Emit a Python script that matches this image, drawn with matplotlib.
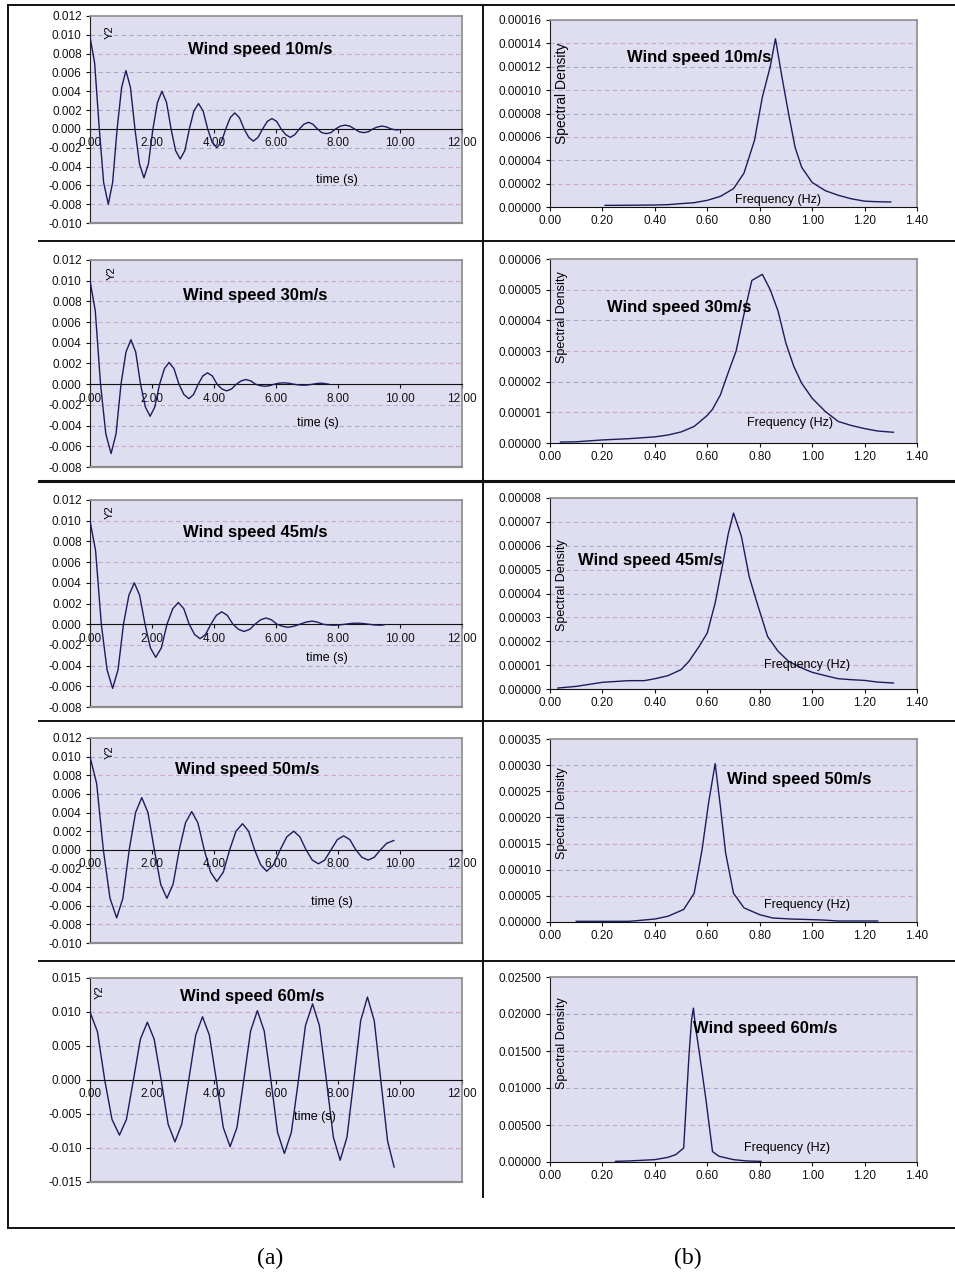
import matplotlib.pyplot as plt
from matplotlib.lines import Line2D

plt.rcParams['font.family'] = ['Liberation Sans', 'DejaVu Sans']
plt.rcParams['axes.unicode_minus'] = False

# ---- (a) response Y2 against time (s) ----
t_10 = [0.00, 0.15, 0.30, 0.44, 0.59,
        0.73, 0.875, 1.02, 1.16,
        1.305, 1.45, 1.595, 1.74,
        1.885, 2.03, 2.175, 2.32,
        2.47, 2.615, 2.76, 2.91,
        3.06, 3.205, 3.35, 3.50,
        3.65, 3.795, 3.94, 4.09,
        4.235, 4.38, 4.525, 4.67,
        4.82, 4.97, 5.12, 5.27,
        5.42, 5.57, 5.72, 5.87,
        6.02, 6.165, 6.31, 6.46,
        6.61, 6.755, 6.90, 7.05,
        7.19, 7.335, 7.48, 7.62,
        7.77, 7.925, 8.08, 8.23,
        8.38, 8.53, 8.68, 8.83,
        8.98, 9.125, 9.27, 9.42,
        9.57, 9.71, 9.85, 9.95]
y2_10 = [0.0098, 0.0070, 0.0, -0.0057, -0.0080,
         -0.0057, 0.0, 0.0044, 0.0062,
         0.0044, 0.0, -0.0037, -0.0052,
         -0.0037, 0.0, 0.0028, 0.0040,
         0.0028, 0.0, -0.0023, -0.0032,
         -0.0023, 0.0, 0.0019, 0.0027,
         0.0019, 0.0, -0.0014, -0.0020,
         -0.0014, 0.0, 0.0012, 0.0017,
         0.0012, 0.0, -0.0009, -0.0013,
         -0.0009, 0.0, 0.0008, 0.0011,
         0.0008, 0.0, -0.0006, -0.0009,
         -0.0006, 0.0, 0.0005, 0.0007,
         0.0005, 0.0, -0.0004, -0.0005,
         -0.0004, 0.0, 0.0003, 0.0004,
         0.0003, 0.0, -0.0003, -0.0004,
         -0.0003, 0.0, 0.0002, 0.0003,
         0.0002, 0.0, -0.0001, -0.0001]

t_30 = [0.00, 0.17, 0.34, 0.51, 0.68,
        0.84, 1.00, 1.16, 1.32,
        1.475, 1.63, 1.785, 1.94,
        2.09, 2.245, 2.40, 2.55,
        2.71, 2.87, 3.03, 3.19,
        3.34, 3.49, 3.64, 3.79,
        3.945, 4.10, 4.255, 4.41,
        4.565, 4.72, 4.875, 5.03,
        5.185, 5.34, 5.495, 5.65,
        5.80, 5.945, 6.09, 6.24,
        6.40, 6.565, 6.73, 6.89,
        7.04, 7.185, 7.33, 7.48,
        7.70]
y2_30 = [0.0100, 0.0071, 0.0, -0.0048, -0.0067,
         -0.0048, 0.0, 0.0031, 0.0043,
         0.0031, 0.0, -0.0022, -0.0031,
         -0.0022, 0.0, 0.0015, 0.0021,
         0.0015, 0.0, -0.0010, -0.0014,
         -0.0010, 0.0, 0.0008, 0.0011,
         0.0008, 0.0, -0.00046, -0.00065,
         -0.00046, 0.0, 0.00032, 0.00045,
         0.00032, 0.0, -0.00014, -0.0002,
         -0.00014, 0.0, 0.0001, 0.00013,
         0.0001, 0.0, -0.00007, -0.0001,
         -0.00007, 0.0, 0.00007, 0.0001,
         0.0]

t_45 = [0.00, 0.18, 0.365, 0.55, 0.73,
        0.905, 1.08, 1.255, 1.43,
        1.60, 1.775, 1.95, 2.12,
        2.30, 2.485, 2.67, 2.85,
        3.025, 3.20, 3.375, 3.55,
        3.725, 3.90, 4.075, 4.25,
        4.43, 4.61, 4.79, 4.97,
        5.15, 5.325, 5.50, 5.68,
        5.855, 6.03, 6.205, 6.38,
        6.575, 6.77, 6.965, 7.16,
        7.335, 7.51, 7.685, 7.86,
        8.05, 8.235, 8.42, 8.61,
        8.80, 8.985, 9.17, 9.36,
        9.50]
y2_45 = [0.0100, 0.0071, 0.0, -0.0044, -0.0062,
         -0.0044, 0.0, 0.0028, 0.0040,
         0.0028, 0.0, -0.0023, -0.0032,
         -0.0023, 0.0, 0.0015, 0.0021,
         0.0015, 0.0, -0.0010, -0.0014,
         -0.0010, 0.0, 0.00085, 0.0012,
         0.00085, 0.0, -0.0005, -0.0007,
         -0.0005, 0.0, 0.00042, 0.0006,
         0.00042, 0.0, -0.0002, -0.0003,
         -0.0002, 0.0, 0.0002, 0.0003,
         0.0002, 0.0, -0.00007, -0.0001,
         -0.00007, 0.0, 0.00007, 0.0001,
         0.00007, 0.0, -0.00007, -0.0001,
         -0.00005]

t_50 = [0.00, 0.215, 0.43, 0.645, 0.86,
        1.06, 1.265, 1.47, 1.67,
        1.87, 2.075, 2.28, 2.48,
        2.68, 2.88, 3.08, 3.28,
        3.48, 3.685, 3.89, 4.09,
        4.30, 4.505, 4.71, 4.92,
        5.115, 5.31, 5.505, 5.70,
        5.92, 6.135, 6.35, 6.57,
        6.77, 6.97, 7.17, 7.37,
        7.57, 7.775, 7.98, 8.18,
        8.38, 8.575, 8.77, 8.97,
        9.17, 9.37, 9.57, 9.80]
y2_50 = [0.0100, 0.0071, 0.0, -0.0052, -0.0073,
         -0.0052, 0.0, 0.0040, 0.0056,
         0.0040, 0.0, -0.0037, -0.0052,
         -0.0037, 0.0, 0.0029, 0.0041,
         0.0029, 0.0, -0.0024, -0.0034,
         -0.0024, 0.0, 0.0020, 0.0028,
         0.0020, 0.0, -0.0016, -0.0023,
         -0.0016, 0.0, 0.0014, 0.0020,
         0.0014, 0.0, -0.0011, -0.0015,
         -0.0011, 0.0, 0.0011, 0.0015,
         0.0011, 0.0, -0.0008, -0.0011,
         -0.0008, 0.0, 0.0007, 0.0010]

t_60 = [0.00, 0.24, 0.475, 0.71, 0.95,
        1.175, 1.40, 1.625, 1.85,
        2.07, 2.295, 2.52, 2.74,
        2.96, 3.185, 3.41, 3.63,
        3.85, 4.075, 4.30, 4.52,
        4.74, 4.96, 5.18, 5.40,
        5.62, 5.835, 6.05, 6.27,
        6.495, 6.725, 6.95, 7.18,
        7.40, 7.625, 7.85, 8.07,
        8.29, 8.51, 8.73, 8.95,
        9.17, 9.38, 9.60, 9.81]
y2_60 = [0.0100, 0.0071, 0.0, -0.0058, -0.0081,
         -0.0058, 0.0, 0.0060, 0.0085,
         0.0060, 0.0, -0.0065, -0.0091,
         -0.0065, 0.0, 0.0066, 0.0093,
         0.0066, 0.0, -0.0070, -0.0098,
         -0.0070, 0.0, 0.0072, 0.0102,
         0.0072, 0.0, -0.0077, -0.0108,
         -0.0077, 0.0, 0.0080, 0.0112,
         0.0080, 0.0, -0.0084, -0.0118,
         -0.0084, 0.0, 0.0087, 0.0122,
         0.0087, 0.0, -0.0090, -0.0128]

# ---- (b) spectral density against frequency (Hz) ----
f_10 = [0.21, 0.30, 0.40, 0.45, 0.50, 0.55, 0.60, 0.65, 0.70, 0.74, 0.78, 0.81, 0.84,
        0.86, 0.885, 0.91, 0.935, 0.96, 1.00, 1.05, 1.10, 1.15, 1.20, 1.25, 1.30]
sd_10 = [1.4e-6, 1.5e-6, 1.7e-6, 2.0e-6, 2.9e-6, 3.7e-6, 5.7e-6, 9.1e-6, 1.57e-5, 2.9e-5,
         5.7e-5, 9.4e-5, 1.2e-4, 1.44e-4, 1.11e-4, 8.0e-5, 5.1e-5, 3.4e-5, 2.1e-5, 1.4e-5,
         1.0e-5, 7.0e-6, 5.0e-6, 4.5e-6, 4.3e-6]

f_30 = [0.04, 0.10, 0.20, 0.30, 0.40, 0.45, 0.50, 0.55, 0.60, 0.62, 0.65, 0.68, 0.71, 0.74,
        0.77, 0.81, 0.84, 0.87, 0.90, 0.93, 0.96, 1.00, 1.05, 1.10, 1.15, 1.20, 1.25, 1.31]
sd_30 = [3e-7, 4e-7, 1.0e-6, 1.4e-6, 2.0e-6, 2.6e-6, 3.6e-6, 5.4e-6, 9.0e-6, 1.1e-5,
         1.57e-5, 2.3e-5, 3.0e-5, 4.2e-5, 5.3e-5, 5.5e-5, 5.0e-5, 4.3e-5, 3.25e-5, 2.5e-5,
         1.95e-5, 1.46e-5, 1.03e-5, 7.0e-6, 5.7e-6, 4.7e-6, 3.9e-6, 3.5e-6]

f_45 = [0.03, 0.10, 0.20, 0.30, 0.36, 0.40, 0.45, 0.50, 0.53, 0.57, 0.60, 0.63, 0.66, 0.68,
        0.70, 0.73, 0.76, 0.79, 0.83, 0.87, 0.91, 0.96, 1.00, 1.05, 1.10, 1.15, 1.20, 1.25, 1.31]
sd_45 = [4e-7, 1.1e-6, 2.8e-6, 3.5e-6, 3.5e-6, 4.3e-6, 5.6e-6, 8.1e-6, 1.16e-5, 1.8e-5,
         2.35e-5, 3.6e-5, 5.3e-5, 6.5e-5, 7.37e-5, 6.4e-5, 4.7e-5, 3.6e-5, 2.2e-5, 1.58e-5,
         1.16e-5, 8.8e-6, 7.0e-6, 5.6e-6, 4.3e-6, 3.9e-6, 3.6e-6, 2.9e-6, 2.5e-6]

f_50 = [0.10, 0.20, 0.30, 0.33, 0.40, 0.45, 0.51, 0.55, 0.58, 0.605, 0.63, 0.65, 0.67, 0.70,
        0.74, 0.80, 0.85, 0.92, 1.00, 1.04, 1.10, 1.20, 1.25]
sd_50 = [1.3e-6, 1.3e-6, 1.3e-6, 2.5e-6, 5.7e-6, 1.1e-5, 2.4e-5, 5.5e-5, 1.38e-4, 2.28e-4,
         3.03e-4, 2.21e-4, 1.32e-4, 5.5e-5, 2.7e-5, 1.4e-5, 7.6e-6, 5.7e-6, 4.5e-6, 3.8e-6,
         1.9e-6, 1.9e-6, 1.9e-6]

f_60 = [0.25, 0.30, 0.40, 0.45, 0.48, 0.51, 0.53, 0.54, 0.547, 0.555, 0.57, 0.595, 0.62,
        0.645, 0.70, 0.75, 0.805]
sd_60 = [9e-5, 1.4e-4, 3.2e-4, 6.3e-4, 1.0e-3, 1.9e-3, 1.43e-2, 1.92e-2, 2.08e-2, 1.83e-2,
         1.47e-2, 8.4e-3, 1.4e-3, 7.7e-4, 3.2e-4, 1.4e-4, 9e-5]

# ---- ticks ----
xt_a = [0, 2, 4, 6, 8, 10, 12]
yt_a10 = [-0.010, -0.008, -0.006, -0.004, -0.002, 0.0, 0.002, 0.004, 0.006, 0.008, 0.010, 0.012]
yt_a30 = [-0.008, -0.006, -0.004, -0.002, 0.0, 0.002, 0.004, 0.006, 0.008, 0.010, 0.012]
yt_a60 = [-0.015, -0.010, -0.005, 0.0, 0.005, 0.010, 0.015]
xt_b = [0.0, 0.2, 0.4, 0.6, 0.8, 1.0, 1.2, 1.4]
yt_b10 = [0.0, 0.00002, 0.00004, 0.00006, 0.00008, 0.00010, 0.00012, 0.00014, 0.00016]
yt_b30 = [0.0, 0.00001, 0.00002, 0.00003, 0.00004, 0.00005, 0.00006]
yt_b45 = [0.0, 0.00001, 0.00002, 0.00003, 0.00004, 0.00005, 0.00006, 0.00007, 0.00008]
yt_b50 = [0.0, 0.00005, 0.00010, 0.00015, 0.00020, 0.00025, 0.00030, 0.00035]
yt_b60 = [0.0, 0.005, 0.010, 0.015, 0.020, 0.025]

W, H = 955, 1277
BG = '#dedef0'
LINE = '#1c1c5a'
FRAME = '#8c8c8c'
GRID = ['#c8a8cc', '#a8a8c8']

fig = plt.figure(figsize=(W / 100, H / 100), dpi=100)


def rect(x0, y0, x1, y1):
    return [x0 / W, 1 - y1 / H, (x1 - x0) / W, (y1 - y0) / H]


def base_axes(r, xticks, yticks, xfmt, yfmt):
    ax = fig.add_axes(r)
    ax.set_facecolor(BG)
    ax.set_xlim(xticks[0], xticks[-1])
    ax.set_ylim(yticks[0], yticks[-1])
    ax.set_xticks(xticks)
    ax.set_xticklabels([xfmt % v for v in xticks])
    ax.set_yticks(yticks)
    ax.set_yticklabels([yfmt % v for v in yticks])
    for i, v in enumerate(yticks[1:-1]):
        ax.axhline(v, color=GRID[i % 2], lw=0.8, ls=(0, (4, 3)), zorder=1)
    for s in ['top', 'right']:
        ax.spines[s].set_color(FRAME)
        ax.spines[s].set_linewidth(1.2)
    ax.spines['left'].set_color('#222222')
    ax.spines['bottom'].set_color('#111111')
    ax.tick_params(direction='out', length=3, width=0.8, labelsize=8.5, pad=3,
                   colors='#111111')
    return ax


def time_panel(r, t, y, yticks, title, title_xy, lab_xy, y2_xy):
    ax = base_axes(r, xt_a, yticks, '%.2f', '%.3f')
    ax.spines['bottom'].set_position(('data', 0))
    ax.axhline(yticks[0], color=FRAME, lw=1.6, zorder=4, clip_on=False)
    ax.plot(t, y, color=LINE, lw=1.0, zorder=3)
    ax.text(*title_xy, title, transform=ax.transAxes, fontsize=12, fontweight='bold',
            ha='left', va='center')
    ax.text(*lab_xy, 'time (s)', transform=ax.transAxes, fontsize=9, ha='center', va='center')
    ax.text(*y2_xy, 'Y2', transform=ax.transAxes, fontsize=8, rotation=90,
            ha='center', va='center')


def spec_panel(r, f, s, yticks, title, title_xy, lab_xy, sd_xy, sd_size=9):
    ax = base_axes(r, xt_b, yticks, '%.2f', '%.5f')
    ax.plot(f, s, color=LINE, lw=1.0, zorder=3)
    ax.text(*title_xy, title, transform=ax.transAxes, fontsize=12, fontweight='bold',
            ha='left', va='center')
    ax.text(*lab_xy, 'Frequency (Hz)', transform=ax.transAxes, fontsize=9,
            ha='center', va='center')
    ax.text(*sd_xy, 'Spectral Density', transform=ax.transAxes, fontsize=sd_size,
            rotation=90, ha='center', va='center')


# column (a)
time_panel(rect(90, 16, 462, 223), t_10, y2_10, yt_a10, 'Wind speed 10m/s',
           (0.263, 0.836), (0.664, 0.208), (0.054, 0.923))
time_panel(rect(90, 260, 462, 467), t_30, y2_30, yt_a30, 'Wind speed 30m/s',
           (0.25, 0.83), (0.613, 0.213), (0.059, 0.937))
time_panel(rect(90, 500, 462, 707), t_45, y2_45, yt_a30, 'Wind speed 45m/s',
           (0.25, 0.845), (0.637, 0.237), (0.054, 0.94))
time_panel(rect(90, 738, 462, 943), t_50, y2_50, yt_a10, 'Wind speed 50m/s',
           (0.228, 0.844), (0.65, 0.2), (0.054, 0.93))
time_panel(rect(90, 978, 462, 1182), t_60, y2_60, yt_a60, 'Wind speed 60m/s',
           (0.242, 0.907), (0.605, 0.319), (0.027, 0.93))

# column (b)
spec_panel(rect(550, 20, 917, 207), f_10, sd_10, yt_b10, 'Wind speed 10m/s',
           (0.21, 0.797), (0.621, 0.04), (0.033, 0.61), sd_size=10)
spec_panel(rect(550, 259, 917, 443), f_30, sd_30, yt_b30, 'Wind speed 30m/s',
           (0.155, 0.739), (0.654, 0.109), (0.033, 0.685))
spec_panel(rect(550, 498, 917, 689), f_45, sd_45, yt_b45, 'Wind speed 45m/s',
           (0.076, 0.675), (0.70, 0.126), (0.033, 0.545))
spec_panel(rect(550, 739, 917, 922), f_50, sd_50, yt_b50, 'Wind speed 50m/s',
           (0.482, 0.781), (0.70, 0.093), (0.033, 0.596))
spec_panel(rect(550, 977, 917, 1162), f_60, sd_60, yt_b60, 'Wind speed 60m/s',
           (0.39, 0.724), (0.646, 0.076), (0.033, 0.643))


# surrounding frame and separators (pixel coordinates)
def hline(y, x0, x1, lw=1.4):
    fig.add_artist(Line2D([x0 / W, x1 / W], [1 - y / H, 1 - y / H], color='#111111', lw=lw))


def vline(x, y0, y1, lw=1.4):
    fig.add_artist(Line2D([x / W, x / W], [1 - y0 / H, 1 - y1 / H], color='#111111', lw=lw))


vline(8, 5, 1228)
hline(5, 8, 955)
hline(1228, 8, 955)
vline(483, 5, 1197)
for yy, w in [(241, 1.4), (481, 2.2), (721, 1.4), (961, 1.4)]:
    hline(yy, 39, 483, w)
    hline(yy, 483, 955, w)

fig.text(270 / W, 1 - 1258 / H, '(a)', family=['Liberation Serif', 'DejaVu Serif'],
         fontsize=17, ha='center', va='center')
fig.text(688 / W, 1 - 1258 / H, '(b)', family=['Liberation Serif', 'DejaVu Serif'],
         fontsize=17, ha='center', va='center')

fig.savefig('out.png', dpi=100)
